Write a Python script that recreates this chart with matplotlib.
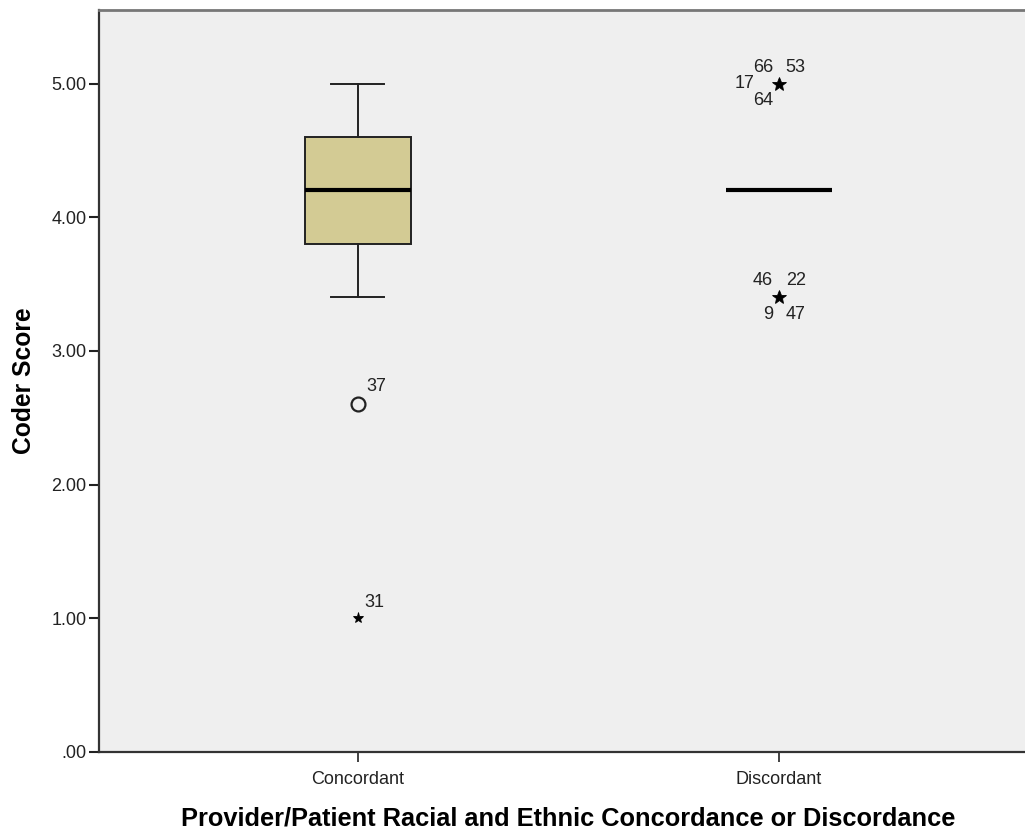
import matplotlib.pyplot as plt
from matplotlib.ticker import FuncFormatter

plt.rcParams['font.family'] = ['Liberation Sans', 'DejaVu Sans']

categories = ['Concordant', 'Discordant']
q1 = [3.8, 4.2]
medians = [4.2, 4.2]
q3 = [4.6, 4.2]
whislo = [3.4, 4.2]
whishi = [5.0, 4.2]

# outliers: (group index, value, case ids, extreme?)
outliers = [
    (0, 2.6, ['37'], False),
    (0, 1.0, ['31'], True),
    (1, 5.0, ['66', '53', '17', '64'], True),
    (1, 3.4, ['46', '22', '9', '47'], True),
]

yticks = [0, 1, 2, 3, 4, 5]

# label offsets in points around each marker
single_off = [(13.5, 13), (11.5, 11.5)]
multi_off = {
    5.0: [(-11.5, 11.5), (12, 11.5), (-24.5, 0), (-11.5, -12)],
    3.4: [(-11.5, 12), (12, 12), (-8, -12), (12, -12)],
}

fig = plt.figure(figsize=(10.25, 8.31), dpi=100)
ax = fig.add_axes([99 / 1025, 79 / 831, 939 / 1025, 742 / 831])
ax.set_facecolor('#efefef')

stats = []
for i, c in enumerate(categories):
    stats.append(dict(label=c, q1=q1[i], med=medians[i], q3=q3[i],
                      whislo=whislo[i], whishi=whishi[i], fliers=[]))

ax.bxp([stats[0]], positions=[0], widths=0.252, patch_artist=True,
       showfliers=False,
       boxprops=dict(facecolor='#d3cb94', edgecolor='#222222', linewidth=1.4),
       medianprops=dict(color='black', linewidth=3),
       whiskerprops=dict(color='#222222', linewidth=1.4),
       capprops=dict(color='#222222', linewidth=1.4),
       capwidths=0.126)
# collapsed box: only a median line
ax.bxp([stats[1]], positions=[1], widths=0.252, showfliers=False,
       showcaps=False,
       boxprops=dict(linewidth=0),
       whiskerprops=dict(linewidth=0),
       medianprops=dict(color='black', linewidth=3))

for k, (g, v, ids, extreme) in enumerate(outliers):
    if extreme:
        ms = 8 if len(ids) == 1 else 10
        ax.plot(g, v, marker='*', color='black', ms=ms, mew=0.6, zorder=5)
    else:
        ax.plot(g, v, marker='o', mfc='none', mec='#222222', ms=10, mew=1.6,
                zorder=5)
    if len(ids) == 1:
        offs = [single_off[k]]
    else:
        offs = multi_off[v]
    for lab, off in zip(ids, offs):
        ax.annotate(lab, (g, v), xytext=off, textcoords='offset points',
                    ha='center', va='center', fontsize=13, color='#222222')

ax.set_xlim(-0.615, 1.615)
ax.set_ylim(0, 5.55)
ax.set_xticks([0, 1])
ax.set_xticklabels(categories, fontsize=13)
ax.set_yticks(yticks)
ax.yaxis.set_major_formatter(FuncFormatter(
    lambda v, p: ('%.2f' % v).lstrip('0') if v < 1 else '%.2f' % v))
ax.tick_params(axis='y', labelsize=13, length=7, width=1.5, pad=2,
               colors='#222222')
ax.tick_params(axis='x', length=7, width=1.2, pad=7, colors='#222222')

for side in ['left', 'bottom']:
    ax.spines[side].set_linewidth(1.6)
    ax.spines[side].set_color('#333333')
ax.spines['top'].set_linewidth(2)
ax.spines['top'].set_color('#777777')
ax.spines['right'].set_visible(False)

ax.set_ylabel('Coder Score', fontsize=17.7, fontweight='bold')
ax.yaxis.set_label_coords(-63 / 939, 0.5)
ax.set_xlabel('Provider/Patient Racial and Ethnic Concordance or Discordance',
              fontsize=18.3, fontweight='bold')
ax.xaxis.set_label_coords(0.5, -55 / 742)

fig.savefig('out.png', dpi=100)
